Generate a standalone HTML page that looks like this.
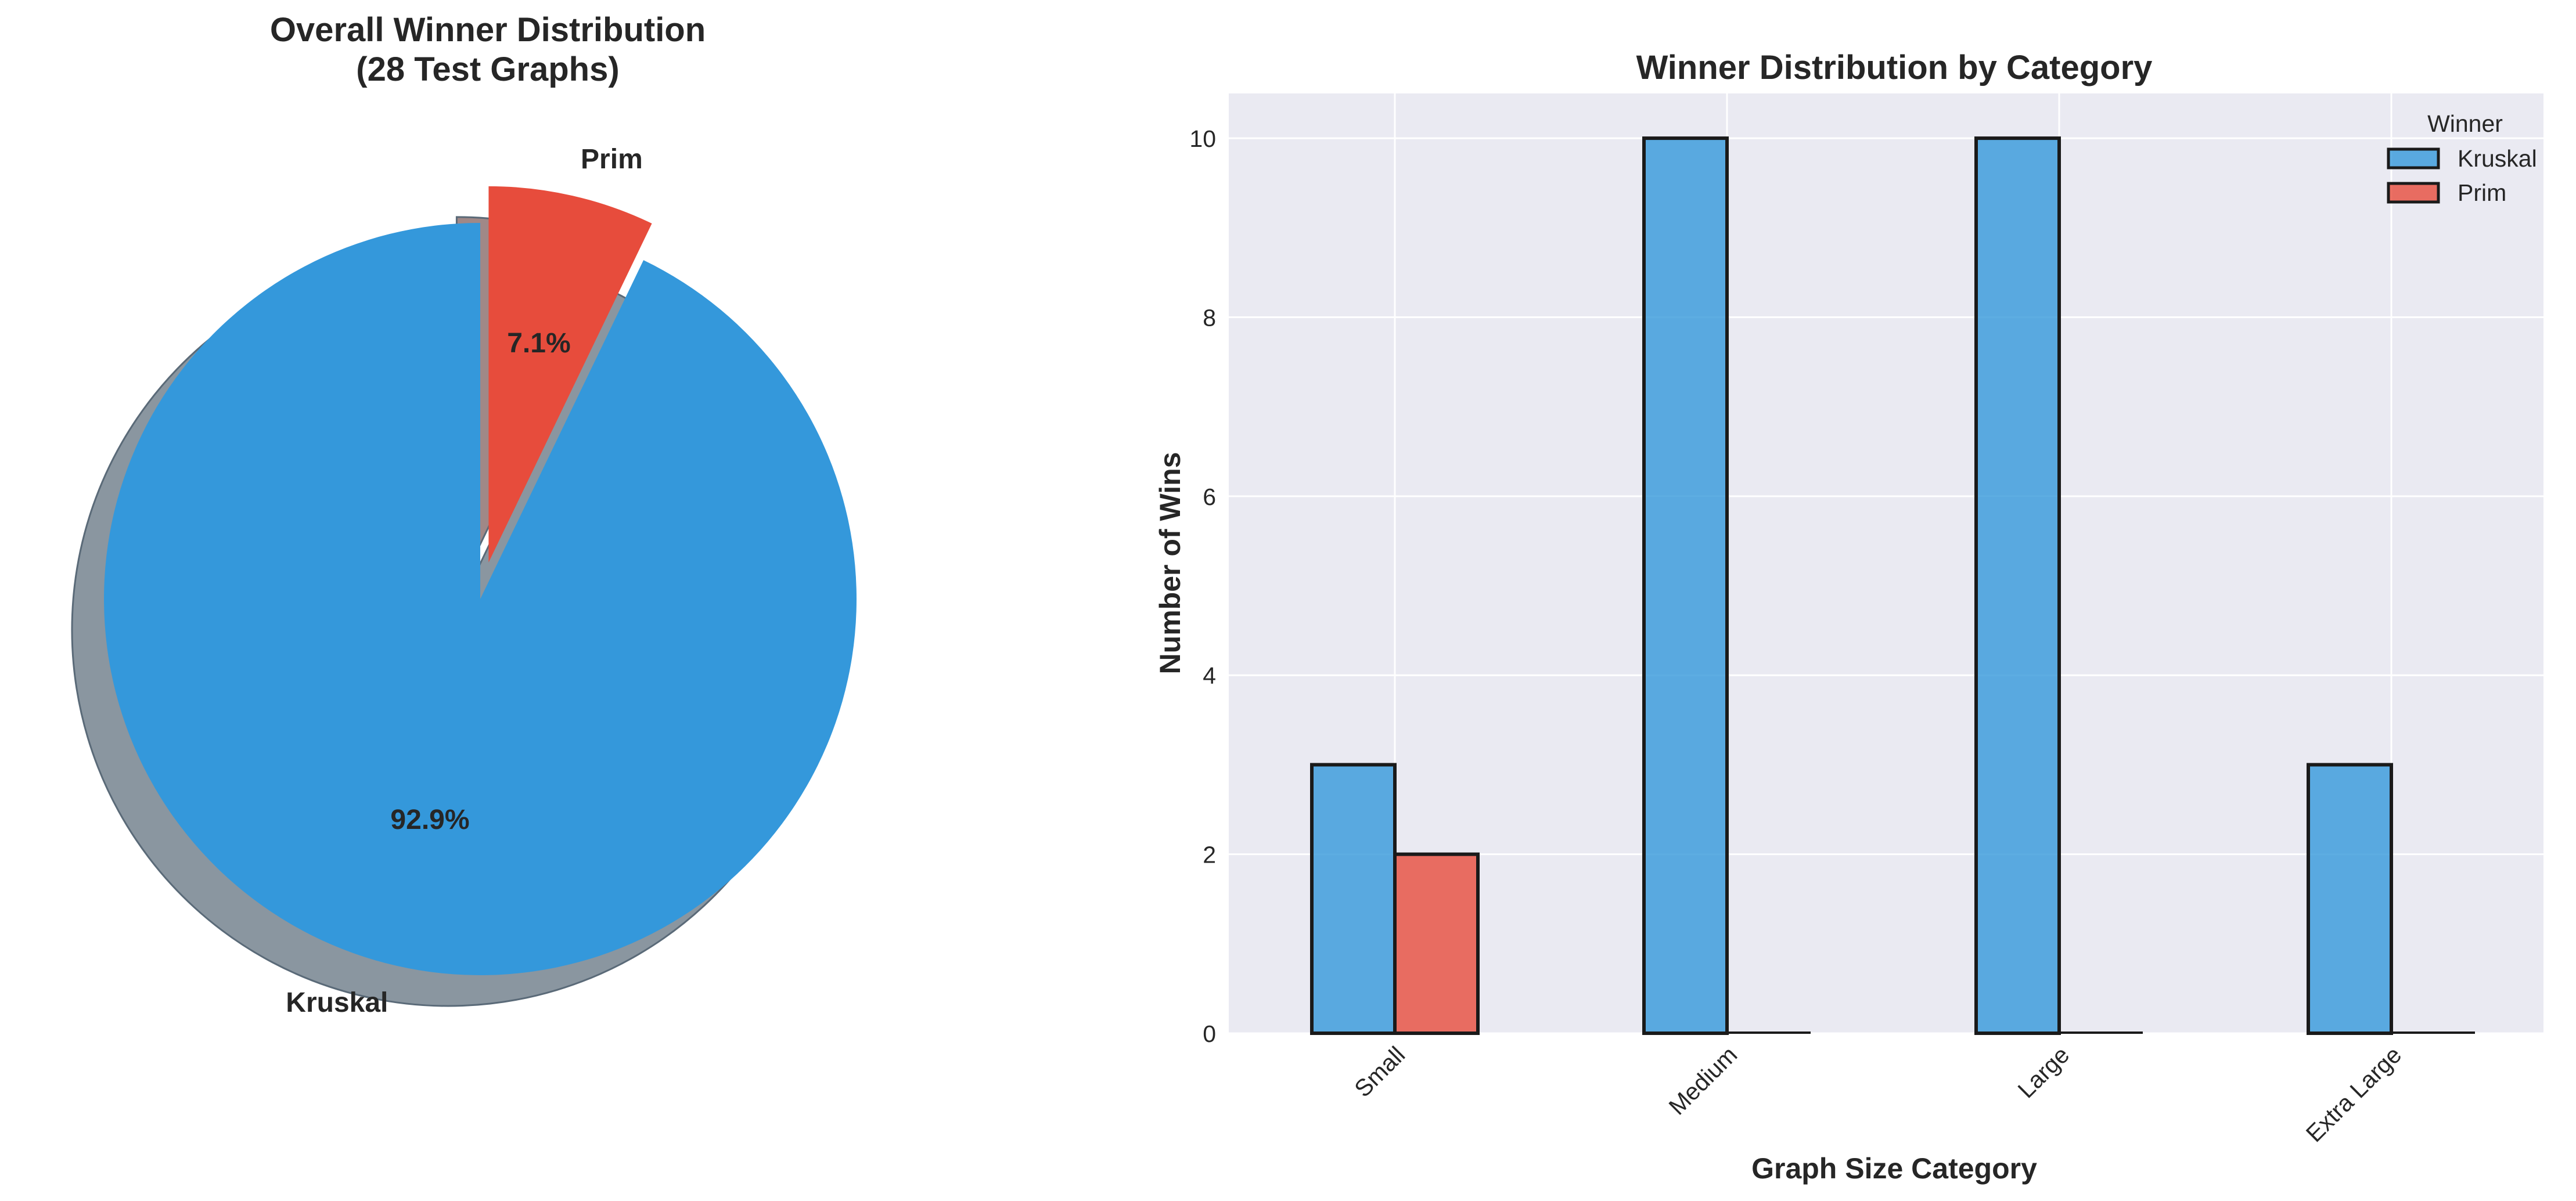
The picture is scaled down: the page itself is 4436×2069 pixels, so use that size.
<!DOCTYPE html>
<html><head><meta charset="utf-8">
<style>
html,body{margin:0;padding:0;background:#fff;}
svg{display:block;font-family:"Liberation Sans",Arial,sans-serif;}
</style></head>
<body>
<svg id="fig" width="4436" height="2069" viewBox="0 0 4436 2069" xmlns="http://www.w3.org/2000/svg">
  <rect width="4436" height="2069" fill="#ffffff"/>
  <g id="pie"></g>
  <text x="840" y="71" font-size="58" font-weight="bold" fill="#262626" text-anchor="middle">Overall Winner Distribution</text>
  <text x="840" y="139" font-size="58" font-weight="bold" fill="#262626" text-anchor="middle">(28 Test Graphs)</text>
  <g id="bars"></g>
  <text x="3262" y="136" font-size="58" font-weight="bold" fill="#262626" text-anchor="middle">Winner Distribution by Category</text>
  <text x="0" y="0" font-size="50" font-weight="bold" fill="#262626" text-anchor="middle" transform="translate(2032,970) rotate(-90)">Number of Wins</text>
  <text x="3262" y="2030" font-size="50" font-weight="bold" fill="#262626" text-anchor="middle">Graph Size Category</text>
</svg>
<script>
const pieLabels = ["Kruskal", "Prim"];
const pieValues = [26, 2];
const pieColors = ["#3498db", "#e74c3c"];
const pieShadow = ["#8a96a0", "#a08887"];
const pieExplode = [0, 0.1];

const categories = ["Small", "Medium", "Large", "Extra Large"];
const kruskalWins = [3, 10, 10, 3];
const primWins = [2, 0, 0, 0];
const yTicks = [0, 2, 4, 6, 8, 10];

const NS = "http://www.w3.org/2000/svg";
function mk(tag, attrs, parent) {
  const e = document.createElementNS(NS, tag);
  for (const k in attrs) e.setAttribute(k, attrs[k]);
  parent.appendChild(e);
  return e;
}

// ---- pie ----
const pie = document.getElementById('pie');
const cx = 827, cy = 1032, R = 648, sdx = -55, sdy = 53;
const total = pieValues.reduce((a, b) => a + b, 0);
function wedgePath(ox, oy, a0, a1) {
  const r0 = a0 * Math.PI / 180, r1 = a1 * Math.PI / 180;
  const x0 = ox + R * Math.cos(r0), y0 = oy - R * Math.sin(r0);
  const x1 = ox + R * Math.cos(r1), y1 = oy - R * Math.sin(r1);
  const large = (a1 - a0) > 180 ? 1 : 0;
  return `M${ox},${oy} L${x0},${y0} A${R},${R} 0 ${large} 0 ${x1},${y1} Z`;
}
const wedges = [];
let ang = 90;
pieValues.forEach((v, i) => {
  const span = v / total * 360;
  const mid = (ang + span / 2) * Math.PI / 180;
  const ox = cx + pieExplode[i] * R * Math.cos(mid);
  const oy = cy - pieExplode[i] * R * Math.sin(mid);
  wedges.push({a0: ang, a1: ang + span, ox, oy, mid, v});
  ang += span;
});
wedges.forEach((w, i) => {
  const s = mk('path', {d: wedgePath(w.ox + sdx, w.oy + sdy, w.a0, w.a1), fill: pieShadow[i], stroke: '#5a6a78', 'stroke-width': 3}, pie);
  
  
});
wedges.forEach((w, i) => {
  const p = mk('path', {d: wedgePath(w.ox, w.oy, w.a0, w.a1), fill: pieColors[i]}, pie);
  
  
  const lx = w.ox + 1.1 * R * Math.cos(w.mid), ly = w.oy - 1.1 * R * Math.sin(w.mid);
  const t = mk('text', {x: lx, y: ly + 16, 'font-size': 48, 'font-weight': 'bold', fill: '#262626', 'text-anchor': Math.cos(w.mid) >= 0 ? 'start' : 'end'}, pie);
  t.textContent = pieLabels[i];
  
  
  const px = w.ox + 0.6 * R * Math.cos(w.mid), py = w.oy - 0.6 * R * Math.sin(w.mid);
  const pt = mk('text', {x: px, y: py + 17, 'font-size': 48, 'font-weight': 'bold', fill: '#262626', 'text-anchor': 'middle'}, pie);
  pt.textContent = (w.v / total * 100).toFixed(1) + '%';
  
  
});

// ---- bars ----
const bars = document.getElementById('bars');
const L = 2116, Rt = 4404, T = 161, B = 1780, ymax = 10.5, clipR = 4380;
const xs = i => L + (i + 0.5) / categories.length * (Rt - L);
const unit = (Rt - L) / categories.length;
const ys = v => B - v / ymax * (B - T);
const bg = mk('rect', {x: L, y: T, width: clipR - L, height: B - T, fill: '#eaeaf2'}, bars);


yTicks.forEach(v => {
  const g = mk('line', {x1: L, x2: clipR, y1: ys(v), y2: ys(v), stroke: '#ffffff', 'stroke-width': 3}, bars);
  
  
  const t = mk('text', {x: L - 22, y: ys(v) + 15, 'font-size': 41, fill: '#262626', 'text-anchor': 'end'}, bars);
  t.textContent = v;
  
  
});
categories.forEach((c, i) => {
  const g = mk('line', {x1: xs(i), x2: xs(i), y1: T, y2: B, stroke: '#ffffff', 'stroke-width': 3}, bars);
  
  
});
const bw = unit * 0.25;
function bar(x, v, color, name) {
  const y = ys(v);
  const r = mk('rect', {x: x, y: y - (v > 0 ? 0 : 2), width: bw, height: Math.max(B - y, 2), fill: color, 'fill-opacity': 0.8, stroke: '#1a1a1a', 'stroke-width': v > 0 ? 6 : 2}, bars);
  
  
}
categories.forEach((c, i) => {
  bar(xs(i) - bw, kruskalWins[i], '#3498db', 'bar-kruskal-' + c.toLowerCase().replace(' ', '-'));
  bar(xs(i), primWins[i], '#e74c3c', 'bar-prim-' + c.toLowerCase().replace(' ', '-'));
  const t = mk('text', {x: 0, y: 0, 'font-size': 41, fill: '#262626', 'text-anchor': 'end', transform: `translate(${xs(i) + 20},${B + 40}) rotate(-45)`}, bars);
  t.textContent = c;
  
  
});
// legend
const lg = mk('g', {}, bars);


const lt = mk('text', {x: 4245, y: 227, 'font-size': 41, fill: '#262626', 'text-anchor': 'middle'}, lg);
lt.textContent = 'Winner';


[['Kruskal', '#3498db'], ['Prim', '#e74c3c']].forEach((e, k) => {
  const y = 257 + k * 59;
  const r = mk('rect', {x: 4113, y: y, width: 86, height: 32, fill: e[1], 'fill-opacity': 0.8, stroke: '#1a1a1a', 'stroke-width': 5}, lg);
  
  
  const t = mk('text', {x: 4232, y: y + 30, 'font-size': 41, fill: '#262626'}, lg);
  t.textContent = e[0];
  
  
});
</script>
</body></html>
